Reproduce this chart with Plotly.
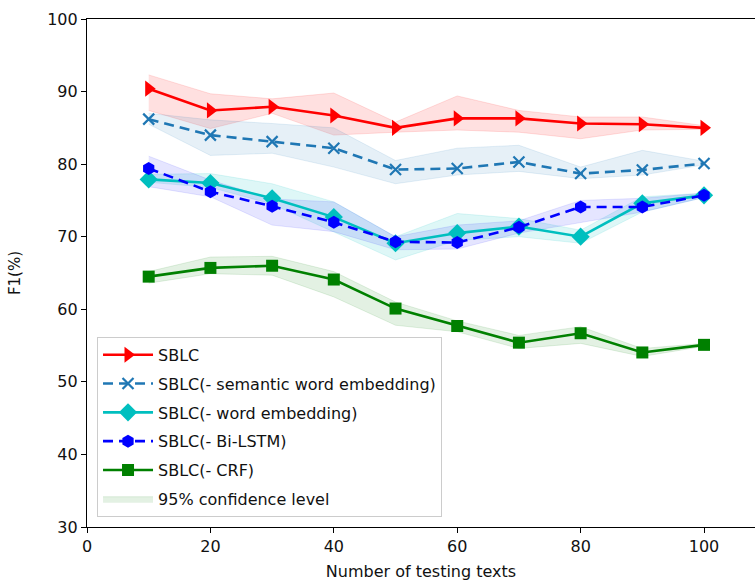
import plotly.graph_objects as go

x_vals = [10, 20, 30, 40, 50, 60, 70, 80, 90, 100]

sblc = [90.4, 87.4, 87.9, 86.7, 85.0, 86.3, 86.3, 85.6, 85.5, 85.0]
sblc_hi = [92.3, 89.7, 89.0, 89.8, 85.8, 89.4, 87.4, 86.5, 86.5, 85.3]
sblc_lo = [87.4, 84.9, 87.0, 84.0, 84.4, 84.7, 84.4, 83.5, 84.7, 84.8]

sem = [86.2, 84.0, 83.1, 82.2, 79.25, 79.4, 80.3, 78.7, 79.2, 80.1]
sem_hi = [87.0, 86.1, 85.6, 85.0, 80.5, 82.2, 82.6, 79.6, 81.9, 80.4]
sem_lo = [85.5, 81.2, 81.5, 79.6, 77.3, 78.5, 79.0, 78.0, 78.5, 79.9]

word = [77.9, 77.4, 75.3, 72.7, 69.1, 70.5, 71.4, 70.0, 74.6, 75.7]
word_hi = [78.6, 78.7, 77.3, 74.8, 70.0, 73.2, 72.5, 70.9, 75.5, 76.0]
word_lo = [77.5, 76.8, 74.5, 70.7, 66.8, 69.5, 70.0, 69.1, 73.4, 75.4]

bilstm = [79.4, 76.2, 74.2, 72.0, 69.3, 69.2, 71.3, 74.1, 74.1, 75.7]
bilstm_hi = [81.1, 77.8, 75.2, 74.8, 70.0, 71.6, 72.2, 75.0, 75.3, 76.0]
bilstm_lo = [76.9, 75.5, 71.6, 70.7, 68.2, 68.3, 70.5, 71.9, 73.4, 75.4]

crf = [64.5, 65.7, 66.0, 64.1, 60.1, 57.7, 55.4, 56.7, 54.05, 55.1]
crf_hi = [65.2, 67.2, 67.3, 65.2, 61.0, 58.4, 56.4, 57.6, 54.6, 55.3]
crf_lo = [63.6, 64.9, 64.7, 61.7, 57.8, 56.9, 54.6, 55.3, 53.5, 54.9]

names = ["SBLC", "SBLC(- semantic word embedding)", "SBLC(- word embedding)",
         "SBLC(- Bi-LSTM)", "SBLC(- CRF)"]
band_label = "95% confidence level"

series = [
    (names[0], sblc, sblc_lo, sblc_hi, "#ff0000", "rgba(255,0,0,0.12)", "solid", "triangle-right", 14, 0),
    (names[1], sem, sem_lo, sem_hi, "#1f77b4", "rgba(31,119,180,0.11)", "10px,6px", "x-thin", 11, 2.2),
    (names[2], word, word_lo, word_hi, "#00bfbf", "rgba(0,191,191,0.13)", "solid", "diamond", 14, 0),
    (names[3], bilstm, bilstm_lo, bilstm_hi, "#0000ff", "rgba(0,0,255,0.10)", "10px,6px", "hexagon", 13, 0),
    (names[4], crf, crf_lo, crf_hi, "#008000", "rgba(0,128,0,0.11)", "solid", "square", 12, 0),
]

fig = go.Figure()

# confidence bands
for i, (nm, ys, lo, hi, col, fcol, dash, sym, ms, mlw) in enumerate(series):
    fig.add_trace(go.Scatter(x=x_vals, y=lo, mode="lines",
                             line=dict(width=1, color=fcol), showlegend=False,
                             legendgroup="band%d" % i, hoverinfo="skip"))
    fig.add_trace(go.Scatter(x=x_vals, y=hi, mode="lines", fill="tonexty",
                             fillcolor=fcol, line=dict(width=1, color=fcol),
                             name=band_label, showlegend=(i == 4),
                             legendgroup="band%d" % i, legendrank=10,
                             hoverinfo="skip"))

# main lines
for i, (nm, ys, lo, hi, col, fcol, dash, sym, ms, mlw) in enumerate(series):
    marker = dict(symbol=sym, size=ms, color=col)
    if mlw:
        marker["line"] = dict(width=mlw, color=col)
    fig.add_trace(go.Scatter(x=x_vals, y=ys, mode="lines+markers", name=nm,
                             line=dict(color=col, width=2.6, dash=dash),
                             marker=marker, legendgroup="g%d" % i,
                             legendrank=i + 1))

font_family = "DejaVu Sans"
fig.update_layout(
    width=755, height=583,
    margin=dict(l=87, r=0, t=19, b=56),
    paper_bgcolor="white", plot_bgcolor="white",
    font=dict(family=font_family, size=16, color="#111111"),
    showlegend=True,
    legend=dict(x=0.015, y=0.02, xanchor="left", yanchor="bottom",
                bgcolor="rgba(255,255,255,0.9)", bordercolor="#cccccc",
                borderwidth=1, font=dict(size=16, family=font_family),
                tracegroupgap=5, traceorder="grouped", itemwidth=50),
)
fig.update_xaxes(range=[0, 108.26], tickvals=[0, 20, 40, 60, 80, 100],
                 showline=True, linecolor="black", linewidth=1.2, mirror=True,
                 ticks="outside", ticklen=5, tickcolor="black", showgrid=False,
                 zeroline=False, automargin=False,
                 title=dict(text="Number of testing texts", font=dict(size=16), standoff=10))
fig.update_yaxes(range=[30, 100], tickvals=[30, 40, 50, 60, 70, 80, 90, 100],
                 showline=True, linecolor="black", linewidth=1.2, mirror=False,
                 ticks="outside", ticklen=5, tickcolor="black", showgrid=False,
                 zeroline=False, automargin=False,
                 title=dict(text="F1(%)", font=dict(size=15), standoff=22))

fig.write_html("out.html", config={"displayModeBar": False},
               post_script="document.body.style.margin='0';document.body.style.overflow='hidden';")
